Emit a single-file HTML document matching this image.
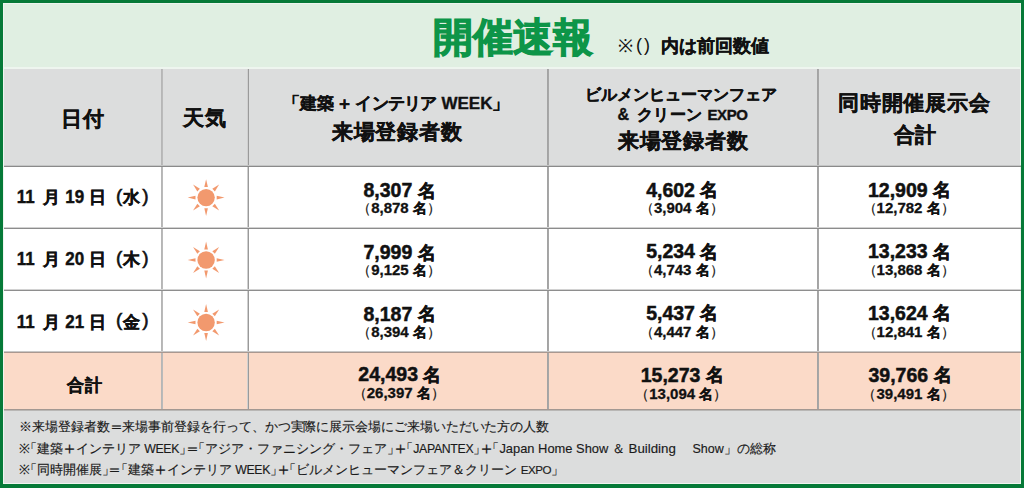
<!DOCTYPE html>
<html><head><meta charset="utf-8">
<style>
*{margin:0;padding:0;box-sizing:border-box}
html,body{width:1024px;height:488px;overflow:hidden;background:#067a38}
body{position:relative;font-family:"Liberation Sans",sans-serif;color:#111}
.a{position:absolute}
.bg{position:absolute}
.hl{position:absolute;height:2px;background:#7a7a7a}
.vl{position:absolute;width:2px;background:#a8a8a8}
.ln{position:absolute;width:500px;text-align:center;white-space:nowrap;font-weight:bold}
.nt{position:absolute;white-space:nowrap}
.ttl{font-size:40px;line-height:50px;color:#0d9548;-webkit-text-stroke:1.1px #0d9548}
.nte{font-size:17.5px;line-height:22px;font-weight:bold;-webkit-text-stroke:0.4px #111}
.nte1{font-size:18px;line-height:22px}
.nte2{font-size:18px;line-height:22px;letter-spacing:2px}
.h1{font-size:21px;line-height:26px;letter-spacing:0.7px;-webkit-text-stroke:0.35px #111}
.h2{font-size:17px;line-height:22px;-webkit-text-stroke:0.35px #111}
.h3{font-size:16px;line-height:19px;-webkit-text-stroke:0.35px #111}
.h4{font-size:17px;line-height:22px;letter-spacing:0.8px;-webkit-text-stroke:0.4px #111}
.dt{font-size:17px;line-height:22px;-webkit-text-stroke:0.4px #111}
.dp{font-size:19px;font-weight:normal;-webkit-text-stroke:0.6px #111;position:relative;top:-1.5px}
.dg{display:inline-block;transform:scaleY(1.13);transform-origin:50% 80%}
.n1{font-size:19.5px;line-height:22px;-webkit-text-stroke:0.5px #111}
.m1{font-size:17.5px;position:relative;top:-0.5px}
.pr{font-weight:normal;-webkit-text-stroke:0.2px #111}.pl1{margin-right:0px}.pr2{margin-left:0px}.m2{font-size:14px}.pr{font-size:14px}
.n2{font-size:15px;line-height:17px;-webkit-text-stroke:0.3px #111}
.note{font-size:13px;line-height:16px;color:#1a1a1a;-webkit-text-stroke:0.15px #1a1a1a}
.ls1{letter-spacing:-0.07px}
.ob{margin-left:-6.5px}.cb{margin-right:-6.5px}.eq{display:inline-block;transform:scaleX(1.3)}.pl{display:inline-block;transform:scale(1.3)}.lt{font-size:12.3px;letter-spacing:-0.3px}.lt2{font-size:12.9px}.lt3{font-size:13.3px}.lt4{font-size:12.5px}.lt5{font-size:11.6px;letter-spacing:-0.5px}
</style></head><body>
<div class="bg" style="left:3px;top:3px;width:1018px;height:481px;background:#eef5ef"></div>
<div class="bg" style="left:4px;top:4px;width:1016px;height:63px;background:#e0efe2"></div>
<div class="bg" style="left:4px;top:69px;width:1016px;height:97px;background:#dcdddd"></div>
<div class="bg" style="left:4px;top:167px;width:1016px;height:185px;background:#ffffff"></div>
<div class="bg" style="left:4px;top:353px;width:1016px;height:57px;background:#fbdac8"></div>
<div class="bg" style="left:4px;top:411px;width:1016px;height:72px;background:#dcdddd"></div>
<div class="vl" style="left:161px;top:69px;height:341px;background:linear-gradient(90deg,#b4b4b4,#bcbcbc)"></div>
<div class="vl" style="left:247px;top:69px;height:341px;background:linear-gradient(90deg,#d0d0d0 0 40%,#9a9a9a 40%)"></div>
<div class="vl" style="left:547px;top:69px;height:341px;background:linear-gradient(90deg,#a2a2a2,#a8a8a8)"></div>
<div class="vl" style="left:817px;top:69px;height:341px;background:linear-gradient(90deg,#a2a2a2,#a8a8a8)"></div>
<div class="hl" style="left:4px;top:165px;width:1017px;background:linear-gradient(#c4c5c5 0 50%,#8a8a8a 50%)"></div>
<div class="hl" style="left:4px;top:227px;width:1017px;background:linear-gradient(#d2d2d2 0 50%,#8c8c8c 50%)"></div>
<div class="hl" style="left:4px;top:289px;width:1017px;background:linear-gradient(#d2d2d2 0 50%,#8e8e8e 50%)"></div>
<div class="hl" style="left:4px;top:351px;width:1017px;background:linear-gradient(#c8c8c8 0 50%,#a99890 50%)"></div>
<div class="hl" style="left:4px;top:409px;width:1017px;background:linear-gradient(#a39892 0 50%,#b9b7b5 50%)"></div>
<div id="title" class="ln ttl" style="left:262.90px;top:11.60px">開催速報</div>
<div id="note1" class="nt nte1" style="left:617.65px;top:35.00px">※</div>
<div id="note2" class="nt nte2" style="left:636.00px;top:33.80px">()</div>
<div id="note" class="nt nte" style="left:660.85px;top:34.80px">内は前回数値</div>
<div id="h_date" class="ln h1" style="left:-166.90px;top:106.00px">日付</div>
<div id="h_wx" class="ln h1" style="left:-45.00px;top:105.00px">天気</div>
<div id="c3l1" class="ln h2" style="left:146.10px;top:93.40px">「建築<span style="margin:0 2.2px 0 2.6px">＋</span><span style="letter-spacing:-0.75px">インテリア</span> WEEK」</div>
<div id="c3l2" class="ln h1" style="left:147.20px;top:118.80px">来場登録者数</div>
<div id="c4l1" class="ln h3" style="left:431.20px;top:85.00px">ビルメンヒューマンフェア</div>
<div id="c4l2" class="ln h3" style="left:432.60px;top:105.40px"><span style="margin-right:3px">&amp;</span> <span style="letter-spacing:0.6px">クリーン</span> <span style="font-size:15px;letter-spacing:-0.4px;-webkit-text-stroke:0.4px #111">EXPO</span></div>
<div id="c4l3" class="ln h1" style="left:433.20px;top:127.60px">来場登録者数</div>
<div id="c5l1" class="ln h1" style="left:664.30px;top:90.00px">同時開催展示会</div>
<div id="c5l2" class="ln h1" style="left:665.30px;top:122.00px">合計</div>
<div id="dt0" class="ln dt" style="left:-167.35px;top:186.00px"><span class="dg" style="margin-right:4px">11</span> 月 <span class="dg">19</span> 日<span class="dp" style="margin-left:10px;margin-right:1px">(</span>水<span class="dp" style="margin-left:2px">)</span></div>
<svg class="a" style="left:186px;top:177px" width="40" height="40" viewBox="-20.10 -20.60 40 40"><g fill="#f2996e"><circle r="8.7"/><path d="M-1.8 -10.6 L0 -18.4 L1.8 -10.6 Z" transform="rotate(0)"/><path d="M-1.8 -10.6 L0 -18.4 L1.8 -10.6 Z" transform="rotate(45)"/><path d="M-1.8 -10.6 L0 -18.4 L1.8 -10.6 Z" transform="rotate(90)"/><path d="M-1.8 -10.6 L0 -18.4 L1.8 -10.6 Z" transform="rotate(135)"/><path d="M-1.8 -10.6 L0 -18.4 L1.8 -10.6 Z" transform="rotate(180)"/><path d="M-1.8 -10.6 L0 -18.4 L1.8 -10.6 Z" transform="rotate(225)"/><path d="M-1.8 -10.6 L0 -18.4 L1.8 -10.6 Z" transform="rotate(270)"/><path d="M-1.8 -10.6 L0 -18.4 L1.8 -10.6 Z" transform="rotate(315)"/></g></svg>
<div id="n0a" class="ln n1" style="left:149.60px;top:179.20px">8,307 <span class="m1">名</span></div>
<div id="p0a" class="ln n2" style="left:149.00px;top:199.20px"><span class="pr pl1">（</span>8,878 <span class="m2">名</span><span class="pr pr2">）</span></div>
<div id="n0b" class="ln n1" style="left:432.25px;top:178.60px">4,602 <span class="m1">名</span></div>
<div id="p0b" class="ln n2" style="left:431.75px;top:199.20px"><span class="pr pl1">（</span>3,904 <span class="m2">名</span><span class="pr pr2">）</span></div>
<div id="n0c" class="ln n1" style="left:659.50px;top:178.60px">12,909 <span class="m1">名</span></div>
<div id="p0c" class="ln n2" style="left:658.60px;top:199.20px"><span class="pr pl1">（</span>12,782 <span class="m2">名</span><span class="pr pr2">）</span></div>
<div id="dt1" class="ln dt" style="left:-167.35px;top:248.30px"><span class="dg" style="margin-right:4px">11</span> 月 <span class="dg">20</span> 日<span class="dp" style="margin-left:10px;margin-right:1px">(</span>木<span class="dp" style="margin-left:2px">)</span></div>
<svg class="a" style="left:186px;top:240px" width="40" height="40" viewBox="-20.10 -20.00 40 40"><g fill="#f2996e"><circle r="8.7"/><path d="M-1.8 -10.6 L0 -18.4 L1.8 -10.6 Z" transform="rotate(0)"/><path d="M-1.8 -10.6 L0 -18.4 L1.8 -10.6 Z" transform="rotate(45)"/><path d="M-1.8 -10.6 L0 -18.4 L1.8 -10.6 Z" transform="rotate(90)"/><path d="M-1.8 -10.6 L0 -18.4 L1.8 -10.6 Z" transform="rotate(135)"/><path d="M-1.8 -10.6 L0 -18.4 L1.8 -10.6 Z" transform="rotate(180)"/><path d="M-1.8 -10.6 L0 -18.4 L1.8 -10.6 Z" transform="rotate(225)"/><path d="M-1.8 -10.6 L0 -18.4 L1.8 -10.6 Z" transform="rotate(270)"/><path d="M-1.8 -10.6 L0 -18.4 L1.8 -10.6 Z" transform="rotate(315)"/></g></svg>
<div id="n1a" class="ln n1" style="left:149.60px;top:241.00px">7,999 <span class="m1">名</span></div>
<div id="p1a" class="ln n2" style="left:149.00px;top:261.00px"><span class="pr pl1">（</span>9,125 <span class="m2">名</span><span class="pr pr2">）</span></div>
<div id="n1b" class="ln n1" style="left:432.25px;top:240.40px">5,234 <span class="m1">名</span></div>
<div id="p1b" class="ln n2" style="left:431.75px;top:261.00px"><span class="pr pl1">（</span>4,743 <span class="m2">名</span><span class="pr pr2">）</span></div>
<div id="n1c" class="ln n1" style="left:659.50px;top:240.40px">13,233 <span class="m1">名</span></div>
<div id="p1c" class="ln n2" style="left:658.60px;top:261.00px"><span class="pr pl1">（</span>13,868 <span class="m2">名</span><span class="pr pr2">）</span></div>
<div id="dt2" class="ln dt" style="left:-167.35px;top:310.60px"><span class="dg" style="margin-right:4px">11</span> 月 <span class="dg">21</span> 日<span class="dp" style="margin-left:10px;margin-right:1px">(</span>金<span class="dp" style="margin-left:2px">)</span></div>
<svg class="a" style="left:186px;top:302px" width="40" height="40" viewBox="-20.10 -20.50 40 40"><g fill="#f2996e"><circle r="8.7"/><path d="M-1.8 -10.6 L0 -18.4 L1.8 -10.6 Z" transform="rotate(0)"/><path d="M-1.8 -10.6 L0 -18.4 L1.8 -10.6 Z" transform="rotate(45)"/><path d="M-1.8 -10.6 L0 -18.4 L1.8 -10.6 Z" transform="rotate(90)"/><path d="M-1.8 -10.6 L0 -18.4 L1.8 -10.6 Z" transform="rotate(135)"/><path d="M-1.8 -10.6 L0 -18.4 L1.8 -10.6 Z" transform="rotate(180)"/><path d="M-1.8 -10.6 L0 -18.4 L1.8 -10.6 Z" transform="rotate(225)"/><path d="M-1.8 -10.6 L0 -18.4 L1.8 -10.6 Z" transform="rotate(270)"/><path d="M-1.8 -10.6 L0 -18.4 L1.8 -10.6 Z" transform="rotate(315)"/></g></svg>
<div id="n2a" class="ln n1" style="left:149.60px;top:302.50px">8,187 <span class="m1">名</span></div>
<div id="p2a" class="ln n2" style="left:149.00px;top:322.50px"><span class="pr pl1">（</span>8,394 <span class="m2">名</span><span class="pr pr2">）</span></div>
<div id="n2b" class="ln n1" style="left:432.25px;top:301.90px">5,437 <span class="m1">名</span></div>
<div id="p2b" class="ln n2" style="left:431.75px;top:322.50px"><span class="pr pl1">（</span>4,447 <span class="m2">名</span><span class="pr pr2">）</span></div>
<div id="n2c" class="ln n1" style="left:659.50px;top:301.90px">13,624 <span class="m1">名</span></div>
<div id="p2c" class="ln n2" style="left:658.60px;top:322.50px"><span class="pr pl1">（</span>12,841 <span class="m2">名</span><span class="pr pr2">）</span></div>
<div id="tot" class="ln h4" style="left:-164.85px;top:375.00px">合計</div>
<div id="tn0" class="ln n1" style="left:149.90px;top:363.20px">24,493 <span class="m1">名</span></div>
<div id="tp0" class="ln n2" style="left:148.80px;top:384.00px"><span class="pr pl1">（</span>26,397 <span class="m2">名</span><span class="pr pr2">）</span></div>
<div id="tn1" class="ln n1" style="left:432.25px;top:363.50px">15,273 <span class="m1">名</span></div>
<div id="tp1" class="ln n2" style="left:431.25px;top:384.50px"><span class="pr pl1">（</span>13,094 <span class="m2">名</span><span class="pr pr2">）</span></div>
<div id="tn2" class="ln n1" style="left:660.00px;top:363.50px">39,766 <span class="m1">名</span></div>
<div id="tp2" class="ln n2" style="left:658.50px;top:384.50px"><span class="pr pl1">（</span>39,491 <span class="m2">名</span><span class="pr pr2">）</span></div>
<div id="nt1" class="nt note ls1" style="left:19.00px;top:419.20px">※来場登録者数<span class="eq">＝</span>来場事前登録を行って、かつ実際に展示会場にご来場いただいた方の人数</div>
<div id="nt2" class="nt note" style="left:19.00px;top:440.70px">※<span class="ob">「</span>建築<span class="pl">＋</span>インテリア <span class="lt">WEEK</span><span class="cb">」</span><span class="eq">＝</span><span class="ob">「</span>アジア・ファニシング・フェア<span class="cb">」</span><span class="pl">＋</span><span class="ob">「</span><span class="lt">JAPANTEX</span><span class="cb">」</span><span class="pl">＋</span><span class="ob">「</span><span class="lt2">Japan Home Show</span> ＆ <span class="lt3">Building</span>　 <span class="lt4">Show</span>」の総称</div>
<div id="nt3" class="nt note" style="left:19.00px;top:462.00px">※<span class="ob">「</span>同時開催展<span class="cb">」</span><span class="eq">＝</span><span class="ob">「</span>建築<span class="pl">＋</span>インテリア <span class="lt">WEEK</span><span class="cb">」</span><span class="pl">＋</span><span class="ob">「</span>ビルメンヒューマンフェア＆クリーン <span class="lt5">EXPO</span><span class="cb">」</span></div>
</body></html>
